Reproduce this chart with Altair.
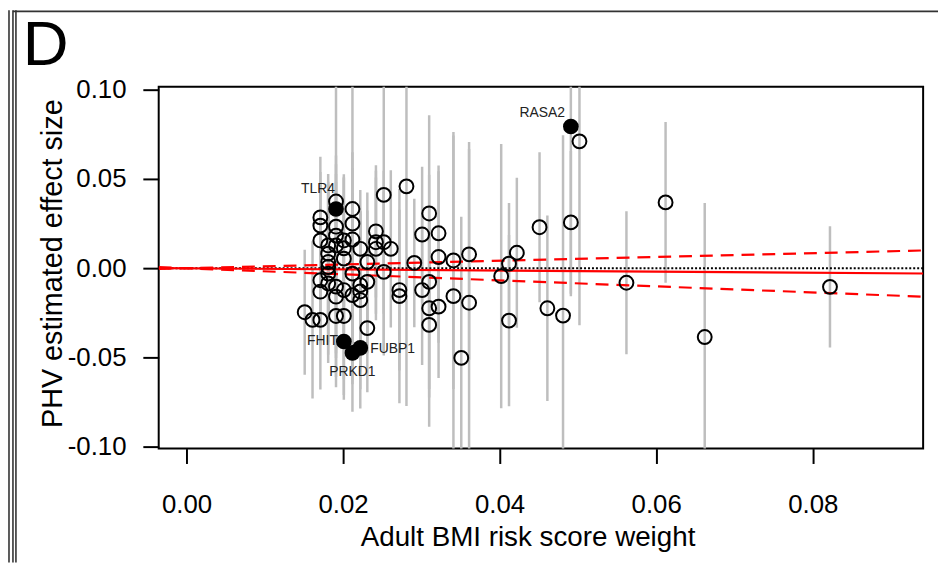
import altair as alt
import pandas as pd

# ---------------- data ----------------
snp_weight = [
    0.0151, 0.0161,
    0.0171, 0.0171, 0.0171, 0.0171, 0.0171, 0.0171,
    0.0181, 0.0181, 0.0181, 0.0181, 0.0181, 0.0181,
    0.0191, 0.0191, 0.0191, 0.0191, 0.0191, 0.0191, 0.0191,
    0.0201, 0.0201, 0.0201, 0.0201, 0.0201,
    0.0212, 0.0212, 0.0212, 0.0212, 0.0212,
    0.0222, 0.0222, 0.0222, 0.0222,
    0.0231, 0.0231, 0.0231,
    0.0242, 0.0242, 0.0242,
    0.0252, 0.0252, 0.0252,
    0.0261, 0.0272, 0.0272, 0.0281, 0.0291,
    0.0301, 0.0301,
    0.0310, 0.0310, 0.0310, 0.0310,
    0.0322, 0.0322, 0.0322,
    0.0341, 0.0341, 0.0351, 0.0361, 0.0361,
    0.0402, 0.0412, 0.0412, 0.0422, 0.0451, 0.0461, 0.0481, 0.0491, 0.0502,
    0.0562, 0.0612, 0.0662, 0.0822,
]
phv_effect = [
    -0.0246, -0.0289,
    0.0285, 0.0239, 0.0156, -0.0067, -0.0131, -0.0289,
    0.0128, 0.0082, 0.0035, 0.0007, -0.0030, -0.0085,
    0.0374, 0.0233, 0.0183, 0.0128, -0.0103, -0.0159, -0.0267,
    0.0156, 0.0112, 0.0054, -0.0122, -0.0267,
    0.0332, 0.0250, 0.0161, -0.0030, -0.0150,
    0.0109, -0.0094, -0.0130, -0.0178,
    0.0035, -0.0076, -0.0335,
    0.0207, 0.0146, 0.0109,
    0.0411, 0.0146, -0.0020,
    0.0109, -0.0122, -0.0156, 0.0459, 0.0030,
    0.0189, -0.0122,
    0.0307, -0.0076, -0.0224, -0.0317,
    0.0196, 0.0063, -0.0215,
    0.0044, -0.0156, -0.0502, 0.0078, -0.0193,
    -0.0044, 0.0026, -0.0293, 0.0087, 0.0230, -0.0224, -0.0265, 0.0257, 0.0711,
    -0.0081, 0.0369, -0.0385, -0.0104,
]
half_ci = [
    0.035, 0.044,
    0.034, 0.030, 0.032, 0.036, 0.030, 0.039,
    0.040, 0.035, 0.045, 0.030, 0.050, 0.040,
    0.085, 0.035, 0.030, 0.040, 0.040, 0.045, 0.040,
    0.037, 0.040, 0.045, 0.050, 0.047,
    0.090, 0.040, 0.040, 0.045, 0.050,
    0.033, 0.040, 0.045, 0.050,
    0.039, 0.040, 0.036,
    0.037, 0.040, 0.040,
    0.090, 0.040, 0.045,
    0.044, 0.045, 0.060, 0.123, 0.036,
    0.038, 0.042,
    0.055, 0.060, 0.050, 0.057,
    0.038, 0.048, 0.040,
    0.072, 0.090, 0.079, 0.059, 0.090,
    0.074, 0.034, 0.048, 0.042, 0.042, 0.052, 0.101, 0.040, 0.103,
    0.040, 0.045, 0.075, 0.034,
]

gene_names = ["TLR4", "RASA2", "FHIT", "FUBP1", "PRKD1"]
gene_weight = [0.0191, 0.0491, 0.0201, 0.0222, 0.0212]
gene_effect = [0.0332, 0.0794, -0.0410, -0.0446, -0.0474]
gene_half_ci = [0.030, 0.095, 0.030, 0.034, 0.033]

ivw_slope = -0.031
ivw_slope_ci = [-0.169, 0.106]

x_domain = [-0.00355, 0.0941]
y_domain = [-0.1010, 0.1017]
x_ticks = [0.00, 0.02, 0.04, 0.06, 0.08]
y_ticks = [-0.10, -0.05, 0.00, 0.05, 0.10]

# ---------------- tables ----------------
pts = pd.DataFrame({"w": snp_weight, "b": phv_effect, "h": half_ci})
genes = pd.DataFrame({"w": gene_weight, "b": gene_effect, "h": gene_half_ci, "gene": gene_names})
bars = pd.concat([pts, genes[["w", "b", "h"]]], ignore_index=True)
bars["lo"] = bars["b"] - bars["h"]
bars["hi"] = bars["b"] + bars["h"]

lines = pd.DataFrame({
    "w": x_domain * 3,
    "b": [ivw_slope * v for v in x_domain]
    + [ivw_slope_ci[0] * v for v in x_domain]
    + [ivw_slope_ci[1] * v for v in x_domain],
    "kind": ["est", "est", "lo", "lo", "hi", "hi"],
})

FONT = "Liberation Sans"

xscale = alt.Scale(domain=x_domain, nice=False, zero=False)
yscale = alt.Scale(domain=y_domain, nice=False, zero=False)

x_axis = alt.Axis(
    values=x_ticks, format=".2f", grid=False, domain=False,
    tickSize=15, tickWidth=2, tickColor="black",
    labelFontSize=26, labelColor="black", labelPadding=28, labelFont=FONT,
    title="Adult BMI risk score weight", titleFontSize=28, titleFontWeight="normal",
    titleColor="black", titleFont=FONT,
    titleX=372, titleY=98, titleAlign="center", titleBaseline="alphabetic", titleAnchor="middle",
)
y_axis = alt.Axis(
    values=y_ticks, grid=False, domain=False,
    labelExpr="replace(format(datum.value, '.2f'), '\u2212', '-')",
    tickSize=16, tickWidth=2, tickColor="black",
    labelFontSize=26, labelColor="black", labelPadding=17, labelFont=FONT,
    title="PHV estimated effect size", titleFontSize=29, titleFontWeight="normal",
    titleColor="black", titleFont=FONT,
    titleX=-98, titleY=178, titleAngle=-90, titleAlign="center",
    titleBaseline="alphabetic", titleAnchor="middle",
)

err = alt.Chart(bars).mark_rule(color="#BEBEBE", strokeWidth=2.5, clip=True).encode(
    x=alt.X("w:Q", scale=xscale, axis=x_axis),
    y=alt.Y("lo:Q", scale=yscale, axis=y_axis),
    y2="hi:Q",
)

zero_line = alt.Chart(pd.DataFrame({"b": [0.0]})).mark_rule(
    color="black", strokeWidth=2, strokeDash=[2, 2]
).encode(y=alt.Y("b:Q", scale=yscale))

est_line = alt.Chart(lines[lines.kind == "est"]).mark_line(
    color="#FF0000", strokeWidth=2.2, clip=True
).encode(x=alt.X("w:Q", scale=xscale), y=alt.Y("b:Q", scale=yscale))

ci_lines = alt.Chart(lines[lines.kind != "est"]).mark_line(
    color="#FF0000", strokeWidth=2.2, strokeDash=[13, 8], clip=True
).encode(x=alt.X("w:Q", scale=xscale), y=alt.Y("b:Q", scale=yscale), detail="kind:N")

open_pts = alt.Chart(pts).mark_point(
    shape="circle", filled=False, color="black", strokeWidth=2, size=196, opacity=1
).encode(x=alt.X("w:Q", scale=xscale), y=alt.Y("b:Q", scale=yscale))

filled_pts = alt.Chart(genes).mark_circle(color="black", size=250, opacity=1).encode(
    x=alt.X("w:Q", scale=xscale), y=alt.Y("b:Q", scale=yscale)
)

label_style = {
    "TLR4": dict(align="right", dx=-1, dy=-20),
    "RASA2": dict(align="right", dx=-6, dy=-14),
    "FHIT": dict(align="right", dx=-6, dy=0),
    "FUBP1": dict(align="left", dx=10, dy=1),
    "PRKD1": dict(align="center", dx=0, dy=19),
}
label_layers = []
for g in gene_names:
    st = label_style[g]
    label_layers.append(
        alt.Chart(genes[genes.gene == g]).mark_text(
            font=FONT, fontSize=14, color="#222222", baseline="middle", **st
        ).encode(x=alt.X("w:Q", scale=xscale), y=alt.Y("b:Q", scale=yscale), text="gene:N")
    )

one = pd.DataFrame({"a": [0]})
panel_letter = alt.Chart(one).mark_text(
    text="D", font=FONT, fontSize=64, align="left", baseline="alphabetic", color="black"
).encode(x=alt.value(-137), y=alt.value(-22))

frame_v = [
    alt.Chart(one).mark_rule(color="#333333", strokeWidth=1.6).encode(
        x=alt.value(xv), y=alt.value(-77), y2=alt.value(480)
    )
    for xv in (-151, -147, -144)
]
frame_top = alt.Chart(one).mark_rule(color="#333333", strokeWidth=1.6).encode(
    x=alt.value(-147), x2=alt.value(790), y=alt.value(-76)
)

chart = alt.layer(
    err, zero_line, est_line, ci_lines, open_pts, filled_pts, *label_layers,
    panel_letter, *frame_v, frame_top,
).properties(
    width=771, height=365,
    autosize=alt.AutoSizeParams(type="none"),
    padding={"left": 152, "top": 77, "right": 15, "bottom": 114},
).configure(
    font=FONT, background="white"
).configure_view(
    stroke="black", strokeWidth=2
)

chart.save("out.html", embed_options={"renderer": "svg", "actions": False})
